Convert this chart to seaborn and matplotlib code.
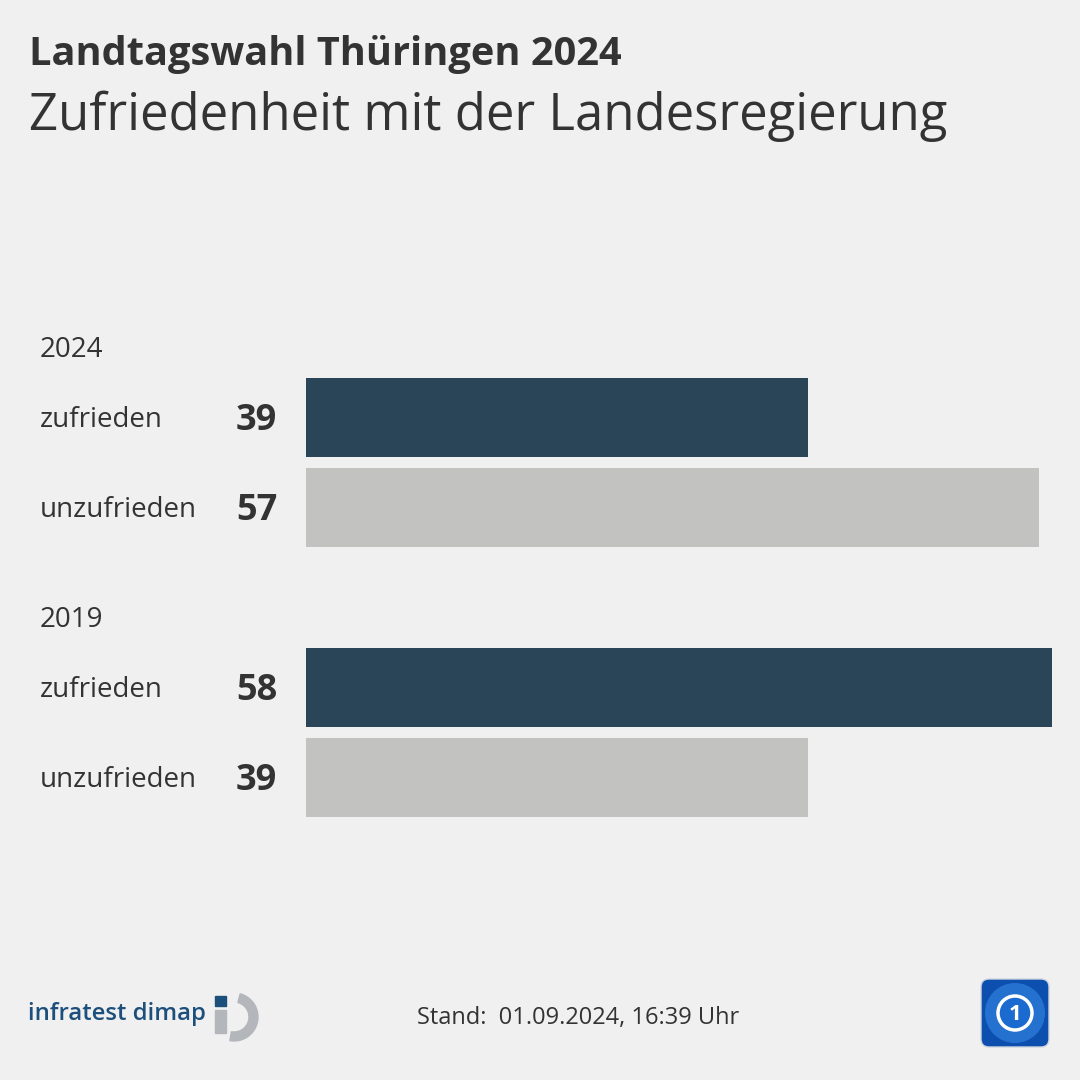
import matplotlib
matplotlib.use("Agg")
import matplotlib.pyplot as plt
import seaborn as sns
import pandas as pd
from matplotlib.patches import FancyBboxPatch, Circle, Wedge, Rectangle

# data
years = ["2024", "2019"]
answers = ["zufrieden", "unzufrieden"]
values_2024 = [39, 57]
values_2019 = [58, 39]

title = "Landtagswahl Thüringen 2024"
subtitle = "Zufriedenheit mit der Landesregierung"
footer = "Stand:  01.09.2024, 16:39 Uhr"

BG = "#f0f0f0"
DARK = "#2a4557"
LIGHT = "#c2c2c0"
TXT = "#333333"
W = H = 1080

rows = []
for gi, (year, vals) in enumerate(zip(years, [values_2024, values_2019])):
    for ri, (ans, v) in enumerate(zip(answers, vals)):
        rows.append({"year": year, "answer": ans, "value": v, "pos": gi * 3 + ri})
df = pd.DataFrame(rows)

sns.set_style("white")
plt.rcParams["font.family"] = ["Open Sans", "DejaVu Sans"]

fig = plt.figure(figsize=(10.8, 10.8), dpi=100, facecolor=BG)


def fx(x):
    return x / W


def fy(y):
    return 1 - y / H


ax = fig.add_axes([fx(306), fy(867.5), fx(1052) - fx(306), 0.5])
ax.set_facecolor(BG)
sns.barplot(data=df, x="value", y="pos", hue="answer", orient="h", native_scale=True,
            palette={"zufrieden": DARK, "unzufrieden": LIGHT}, width=79 / 90,
            dodge=False, legend=False, ax=ax, saturation=1, linewidth=0)
ax.set_xlim(0, 58)
ax.set_ylim(5, -1)
ax.axis("off")

# labels and values
for _, r in df.iterrows():
    ypx = 327.5 + (r["pos"] + 1) * 90
    fig.text(fx(40), fy(ypx - 1), r["answer"], fontsize=20, color=TXT,
             va="center_baseline", ha="left")
    fig.text(fx(277), fy(ypx - 1), str(r["value"]), fontsize=26, fontweight="bold",
             color=TXT, va="center_baseline", ha="right")
for gi, year in enumerate(years):
    ypx = 327.5 + (gi * 3 + 1) * 90 - 70
    fig.text(fx(40), fy(ypx - 1), year, fontsize=20, color=TXT,
             va="center_baseline", ha="left")

# titles
fig.text(fx(29), fy(65), title, fontsize=28.6, fontweight="bold", color=TXT, va="baseline")
fig.text(fx(29), fy(130), subtitle, fontsize=36.6, color=TXT, va="baseline")

# footer
fig.text(fx(578), fy(1018), footer, fontsize=17, color=TXT, va="center", ha="center")
fig.text(fx(28), fy(1014), "infratest dimap", fontsize=17.2, fontweight="semibold",
         color="#1d4f7c", va="center", ha="left")

lax = fig.add_axes([0, 0, 1, 1], facecolor="none")
lax.set_xlim(0, W)
lax.set_ylim(H, 0)
lax.axis("off")
lax.add_patch(Rectangle((215, 996), 11, 10, color="#1d4f7c"))
lax.add_patch(Rectangle((215, 1010), 11, 23, color="#b3b7bb"))
lax.add_patch(Wedge((234, 1017), 24, -75, 100, width=9, color="#b3b7bb"))

lax.add_patch(FancyBboxPatch((981, 979), 68, 68, boxstyle="round,pad=0,rounding_size=8",
                             facecolor="#0d4fae", edgecolor="#d0d6e0", lw=1))
lax.add_patch(Circle((1015, 1013), 30, facecolor="#2b7ad8", edgecolor="none", alpha=0.8))
lax.add_patch(Circle((1015, 1013), 17, facecolor="#1b6ad0", edgecolor="white", lw=2.5))
lax.text(1015, 1014, "1", color="white", fontsize=16, fontweight="bold", ha="center", va="center")

fig.savefig("out.png", dpi=100, facecolor=BG)
